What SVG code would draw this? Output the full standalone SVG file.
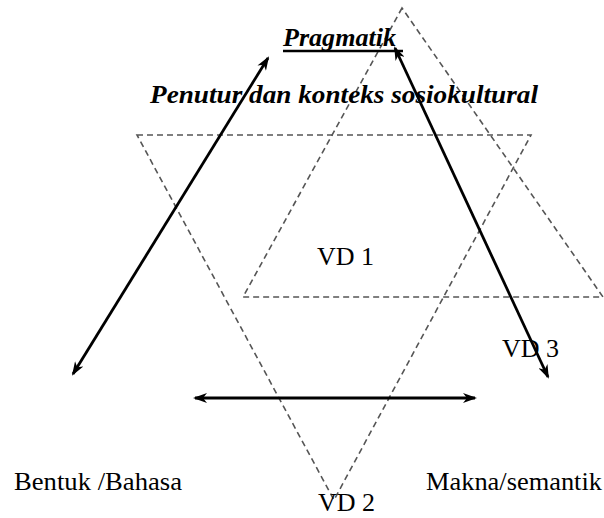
<svg xmlns="http://www.w3.org/2000/svg" width="604" height="518" viewBox="0 0 604 518">
  <style>
    .tri { fill: none; stroke: #555; stroke-width: 1.6; stroke-dasharray: 6 4; }
    .arr { fill: none; stroke: #000; stroke-width: 2.8; }
    .lbl { font-family: "Liberation Serif", "Times New Roman", serif; font-size: 26px; fill: #000; }
    .bi { font-weight: bold; font-style: italic; }
  </style>
  <defs>
    <marker id="ah" viewBox="0 0 14 10" refX="12" refY="5" markerWidth="14" markerHeight="10" markerUnits="userSpaceOnUse" orient="auto-start-reverse">
      <path d="M0,0 L14,5 L0,10 L4,5 Z" fill="#000"/>
    </marker>
  </defs>
  <rect width="604" height="518" fill="#fff"/>
  <g id="triangles">
    <polygon class="tri" points="402,8 243,297 603,297"/>
    <polygon class="tri" points="137,135 531,135 334,500"/>
  </g>
  <g id="connectors">
    <line class="arr" x1="73" y1="374" x2="268" y2="58" marker-start="url(#ah)" marker-end="url(#ah)"/>
    <line class="arr" x1="395" y1="48" x2="548" y2="377" marker-start="url(#ah)" marker-end="url(#ah)"/>
    <line class="arr" x1="195" y1="398" x2="475" y2="398" marker-start="url(#ah)" marker-end="url(#ah)"/>
  </g>
  <g id="pragmatik">
    <text class="lbl bi" x="283" y="46" textLength="113" lengthAdjust="spacingAndGlyphs">Pragmatik</text>
    <line x1="283" y1="51" x2="403" y2="51" stroke="#000" stroke-width="2.5"/>
  </g>
  <g id="penutur">
    <text class="lbl bi" x="150" y="103" textLength="388" lengthAdjust="spacingAndGlyphs">Penutur dan konteks sosiokultural</text>
  </g>
  <g id="vd1">
    <text class="lbl" x="317" y="265">VD 1</text>
  </g>
  <g id="vd3">
    <text class="lbl" x="502" y="357">VD 3</text>
  </g>
  <g id="bentuk">
    <text class="lbl" x="14" y="490" textLength="168" lengthAdjust="spacingAndGlyphs">Bentuk /Bahasa</text>
  </g>
  <g id="makna">
    <text class="lbl" x="426" y="490" textLength="176" lengthAdjust="spacingAndGlyphs">Makna/semantik</text>
  </g>
  <g id="vd2">
    <text class="lbl" x="318" y="511">VD 2</text>
  </g>
</svg>
